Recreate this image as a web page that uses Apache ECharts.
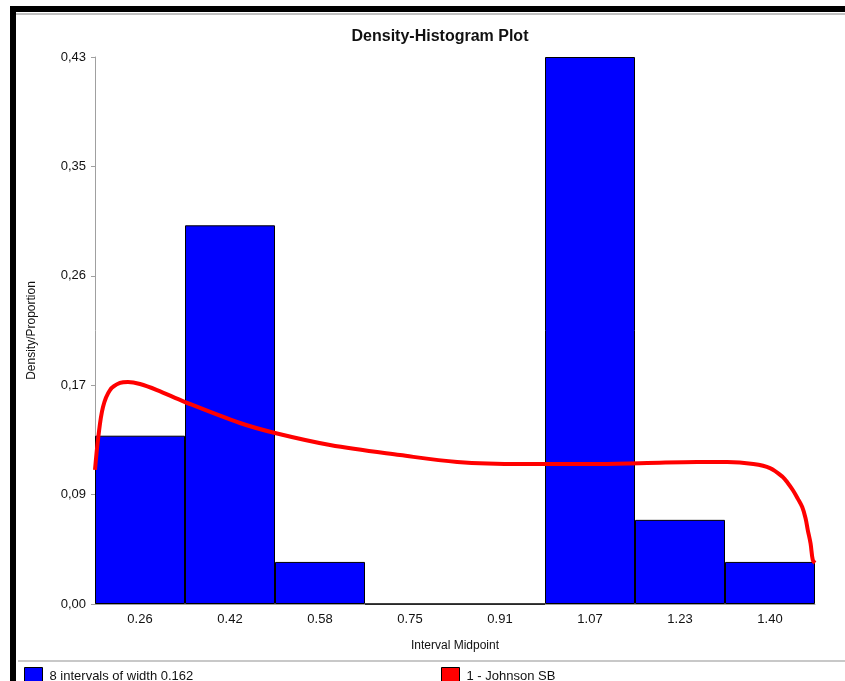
<!DOCTYPE html>
<html>
<head>
<meta charset="utf-8">
<script src="https://cdn.jsdelivr.net/npm/echarts@6/dist/echarts.min.js"></script>
<style>
html,body{margin:0;padding:0;background:#fff;}
#chart{width:845px;height:681px;}
</style>
</head>
<body>
<div id="chart"></div>
<script>
// Histogram: 8 intervals of width 0.162 (proportions, n = 30)
var categories = ['0.26', '0.42', '0.58', '0.75', '0.91', '1.07', '1.23', '1.40'];
var barValues = [4/30, 9/30, 1/30, 0, 0, 13/30, 2/30, 1/30];
var yTickLabels = ['0,00', '0,09', '0,17', '0,26', '0,35', '0,43'];
// Johnson SB fitted density curve
var curveX = [0.179, 0.185, 0.1934, 0.206, 0.224, 0.2384, 0.260, 0.2906, 0.341, 0.440, 0.503, 0.602, 0.728, 0.831, 0.949, 1.070, 1.173, 1.263, 1.317, 1.364, 1.394, 1.417, 1.426, 1.435, 1.444, 1.452, 1.458, 1.462, 1.467, 1.471, 1.475];
var curveY = [0.1062, 0.1325, 0.1561, 0.1695, 0.1751, 0.1759, 0.1743, 0.1695, 0.1600, 0.1434, 0.1355, 0.1260, 0.1180, 0.1125, 0.1109, 0.1109, 0.1117, 0.1125, 0.1125, 0.1109, 0.1077, 0.1006, 0.0959, 0.0903, 0.0835, 0.0768, 0.0680, 0.0586, 0.0480, 0.0349, 0.0325];

var xMin = 0.179, xMax = 1.475;
var yMax = 13/30, yStep = 13/150;

var curveData = curveX.map(function (x, i) { return [x, curveY[i]]; });

var chart = echarts.init(document.getElementById('chart'));
var font = 'Liberation Sans, Arial, sans-serif';
chart.setOption({
  backgroundColor: '#ffffff',
  animation: false,
  textStyle: { fontFamily: font },
  title: {
    text: 'Density-Histogram Plot',
    left: 435, top: 24, textAlign: 'center',
    textStyle: { fontFamily: font, fontSize: 16, fontWeight: 'bold', color: '#111' }
  },
  grid: { left: 95, right: 30, top: 57, bottom: 77, containLabel: false },
  legend: [
    {
      data: ['8 intervals of width 0.162'], left: 24, top: 667, padding: 0,
      itemWidth: 18, itemHeight: 18, itemGap: 8, icon: 'rect',
      textStyle: { fontFamily: font, fontSize: 13, color: '#111', padding: [0, 0, 0, 2] },
      itemStyle: { borderColor: '#000', borderWidth: 1 }
    },
    {
      data: ['1 - Johnson SB'], left: 441, top: 667, padding: 0,
      itemWidth: 18, itemHeight: 18, itemGap: 8, icon: 'rect',
      textStyle: { fontFamily: font, fontSize: 13, color: '#111', padding: [0, 0, 0, 2] },
      itemStyle: { color: '#ff0000', borderColor: '#000', borderWidth: 1 }
    }
  ],
  xAxis: [
    {
      type: 'category', data: categories, boundaryGap: true,
      name: 'Interval Midpoint', nameLocation: 'middle', nameGap: 36,
      nameTextStyle: { fontFamily: font, fontSize: 12, color: '#111' },
      axisLine: { lineStyle: { color: '#a0a0a0' } },
      axisTick: { alignWithLabel: true, length: 5, lineStyle: { color: '#a0a0a0' } },
      axisLabel: { margin: 9, fontSize: 13, color: '#111', fontFamily: font },
      splitLine: { show: false }
    },
    {
      type: 'value', min: xMin, max: xMax, show: false, position: 'bottom'
    }
  ],
  yAxis: {
    type: 'value', min: 0, max: yMax, interval: yStep,
    name: 'Density/Proportion', nameLocation: 'middle', nameGap: 57,
    nameTextStyle: { fontFamily: font, fontSize: 12, color: '#111' },
    axisLine: { show: true, lineStyle: { color: '#a0a0a0' } },
    axisTick: { show: true, length: 4, lineStyle: { color: '#a0a0a0' } },
    axisLabel: {
      margin: 9, fontSize: 13, color: '#111', fontFamily: font,
      formatter: function (v) {
        var i = Math.round(v / yStep);
        return yTickLabels[i] !== undefined ? yTickLabels[i] : '';
      }
    },
    splitLine: { show: false }
  },
  series: [
    {
      name: '8 intervals of width 0.162', type: 'bar', xAxisIndex: 0,
      data: barValues, barWidth: '100%', barCategoryGap: 0,
      itemStyle: { color: '#0000ff', borderColor: '#000', borderWidth: 1 },
      z: 2
    },
    {
      name: '1 - Johnson SB', type: 'line', xAxisIndex: 1,
      data: curveData, smooth: 0.35, showSymbol: false, symbol: 'none',
      lineStyle: { color: '#ff0000', width: 4 },
      itemStyle: { color: '#ff0000' },
      z: 3
    }
  ],
  graphic: [
    { type: 'rect', shape: { x: 10, y: 6, width: 835, height: 6 }, style: { fill: '#000' }, silent: true },
    { type: 'rect', shape: { x: 10, y: 6, width: 6, height: 675 }, style: { fill: '#000' }, silent: true },
    { type: 'rect', shape: { x: 16, y: 13, width: 829, height: 2 }, style: { fill: '#c0c0c0' }, silent: true },
    { type: 'rect', shape: { x: 18, y: 660, width: 827, height: 2 }, style: { fill: '#c8c8c8' }, silent: true }
  ]
});
</script>
</body>
</html>
